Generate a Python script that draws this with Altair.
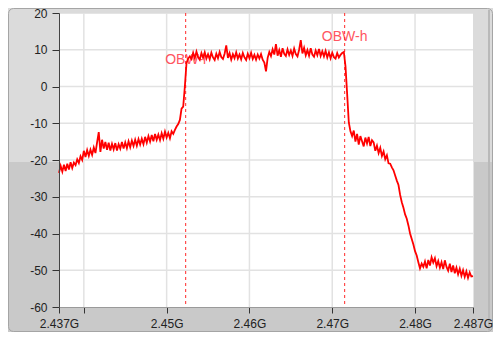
import altair as alt
import pandas as pd

# ---- data ----
freq_start = 2.437
freq_step = 0.0002
power_dbm = [
    -23.5, -21.6, -23.2, -21.3, -23.0, -21.0, -22.6, -20.6, -22.2, -20.7,
    -21.4, -19.8, -20.8, -19.0, -20.0, -17.5, -19.2, -17.3, -18.9, -17.2,
    -18.6, -16.6, -18.1, -15.2, -12.4, -17.8, -14.5, -16.9, -15.1, -17.2,
    -15.3, -17.4, -15.6, -17.1, -15.4, -17.4, -15.7, -16.9, -15.1, -16.9,
    -15.2, -16.8, -14.9, -16.5, -14.7, -16.2, -14.5, -16.1, -14.3, -15.8,
    -14.2, -15.7, -13.7, -15.3, -13.5, -15.0, -13.2, -14.9, -12.9, -14.5,
    -13.1, -14.6, -12.7, -14.2, -12.3, -13.9, -12.6, -14.1, -12.2, -12.9,
    -11.8, -10.9, -10.2, -9.1, -6.0, -5.5, 0.0, 6.4, 7.6, 8.2,
    7.5, 9.2, 7.7, 9.5, 8.0, 7.3, 9.1, 7.8, 9.3, 7.6,
    8.8, 7.4, 9.2, 7.9, 7.2, 8.9, 7.7, 9.4, 8.0, 7.5,
    8.9, 11.2, 7.8, 9.1, 7.3, 8.8, 7.7, 9.3, 7.6, 8.7,
    7.4, 9.1, 7.9, 7.2, 8.9, 7.7, 9.2, 7.5, 8.6, 7.3,
    8.7, 7.6, 8.8, 7.3, 6.5, 4.1, 7.8, 9.4, 8.3, 10.1,
    8.7, 11.5, 8.4, 9.9, 8.1, 10.4, 8.9, 8.3, 10.1, 8.6,
    9.8, 8.3, 10.3, 8.8, 8.2, 10.0, 12.6, 9.0, 10.5, 8.5,
    9.9, 8.4, 10.4, 8.7, 8.1, 9.8, 8.5, 10.2, 8.3, 9.6,
    8.2, 9.7, 7.9, 9.3, 7.7, 9.2, 8.0, 7.6, 9.1, 7.9,
    8.6, 9.1, 9.4, 5.5, -2.0, -9.8, -12.2, -13.5, -12.0, -15.0,
    -12.9, -15.8, -13.5, -14.9, -16.3, -13.9, -15.5, -13.7, -16.2, -14.6,
    -15.2, -17.5, -16.1, -18.1, -16.7, -18.9, -17.7, -19.8, -18.7, -20.9,
    -21.0, -22.0, -22.8, -24.2, -25.6, -26.8, -29.5, -31.5, -33.0, -34.8,
    -36.0, -37.8, -40.0, -41.5, -43.0, -44.8, -46.0, -47.8, -49.5, -48.2,
    -49.1, -47.6, -49.5, -47.2, -48.7, -46.5, -47.9, -46.7, -48.9, -47.5,
    -49.3, -47.8, -49.7, -47.3, -49.1, -50.1, -48.2, -50.5, -48.7, -50.8,
    -49.3, -51.1, -49.6, -51.5, -50.0, -51.8, -50.3, -52.1, -50.6, -51.7,
    -51.6,
]
obw_freqs = [2.4523, 2.4715]
obw_labels = ["OBW-l", "OBW-h"]
obw_label_levels = [7.3, 13.6]
x_ticks = [2.437, 2.44, 2.45, 2.46, 2.47, 2.48, 2.487]
y_ticks = [-60, -50, -40, -30, -20, -10, 0, 10, 20]
x_grid = [2.44, 2.45, 2.46, 2.47, 2.48]
y_grid = [-50, -40, -30, -20, -10, 0, 10]

freqs = [round(freq_start + i * freq_step, 4) for i in range(len(power_dbm))]
spec_df = pd.DataFrame({"f": freqs, "p": power_dbm})
obw_df = pd.DataFrame({"f": obw_freqs, "label": obw_labels, "lvl": obw_label_levels})
xg_df = pd.DataFrame({"f": x_grid})
yg_df = pd.DataFrame({"p": y_grid})
one = pd.DataFrame({"k": [0]})

FONT = "Liberation Sans"
xscale = alt.Scale(domain=[2.437, 2.487], nice=False, zero=False)
yscale = alt.Scale(domain=[-60, 20], nice=False, zero=False)

xaxis = alt.Axis(
    values=x_ticks,
    labelExpr="datum.value == 2.44 ? '' : format(datum.value, '~g') + 'G'",
    grid=False, tickSize=6, tickColor="#333333", domainColor="#9a9a9a",
    labelPadding=5, labelFont=FONT, labelFontSize=12, labelColor="#222222",
    zindex=1, labelFlush=False, labelOverlap=False, title="",
)
yaxis = alt.Axis(
    values=y_ticks, labelExpr="'' + datum.value",
    grid=False, tickSize=7, tickColor="#333333", domainColor="#444444",
    labelPadding=5, labelFont=FONT, labelFontSize=12, labelColor="#222222",
    zindex=1, title="",
)


def X(field):
    return alt.X(field, scale=xscale, axis=xaxis)


def Y(field):
    return alt.Y(field, scale=yscale, axis=yaxis)


# decorative panel pieces (margins only, outside plot area)
light = "#dbdbdb"
left_panel = alt.Chart(one).mark_rect(color=light).encode(
    x=alt.value(-51), x2=alt.value(0), y=alt.value(-5), y2=alt.value(149))
right_panel = alt.Chart(one).mark_rect(color=light).encode(
    x=alt.value(414), x2=alt.value(434), y=alt.value(-5), y2=alt.value(149))
top_panel = alt.Chart(one).mark_rect(color=light).encode(
    x=alt.value(-51), x2=alt.value(434), y=alt.value(-5), y2=alt.value(0))
right_strip = alt.Chart(one).mark_rect(color="#b9b9b9").encode(
    x=alt.value(429), x2=alt.value(431), y=alt.value(-3), y2=alt.value(317))
frame = alt.Chart(one).mark_rect(
    fillOpacity=0, stroke="#a5a5a5", strokeWidth=1, cornerRadius=5).encode(
    x=alt.value(-50.5), x2=alt.value(433.5), y=alt.value(-4.5), y2=alt.value(318.5))

xgrid = alt.Chart(xg_df).mark_rule(color="#e2e2e2", strokeWidth=1.5).encode(x=X("f:Q"))
ygrid = alt.Chart(yg_df).mark_rule(color="#e2e2e2", strokeWidth=1.5).encode(y=Y("p:Q"))

labels = alt.Chart(obw_df).mark_text(
    font=FONT, fontSize=14, color="#ff5560", align="center", baseline="middle").encode(
    x=X("f:Q"), y=Y("lvl:Q"), text="label:N")

rules = alt.Chart(obw_df).mark_rule(
    color="#ff2a2a", strokeWidth=1, strokeDash=[3, 3]).encode(x=X("f:Q"))

line = alt.Chart(spec_df).mark_line(color="#ff0000", strokeWidth=1.8).encode(
    x=X("f:Q"), y=Y("p:Q"))

chart = alt.layer(
    left_panel, right_panel, top_panel, right_strip, frame,
    xgrid, ygrid, labels, rules, line,
).properties(
    width=414, height=294,
    padding={"left": 51, "top": 5, "right": 20, "bottom": 25},
    autosize=alt.AutoSizeParams(type="none"),
    background="#c9c9c9",
).configure_view(fill="white", stroke="transparent")

chart.save("out.html", embed_options={"renderer": "svg", "actions": False})
